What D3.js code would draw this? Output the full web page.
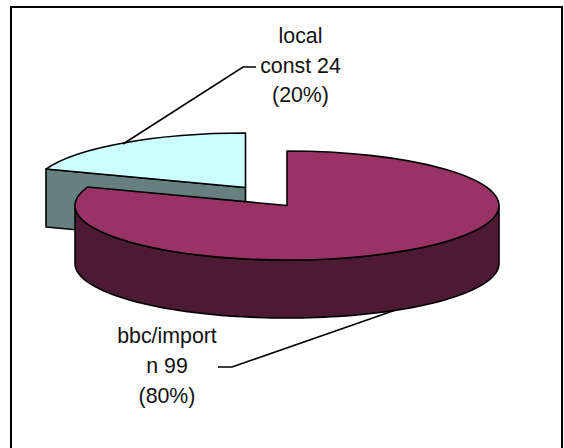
<!DOCTYPE html>
<html><head><meta charset="utf-8">
<script src="https://cdnjs.cloudflare.com/ajax/libs/d3/7.9.0/d3.min.js"></script>
<style>html,body{margin:0;background:#fff}svg{display:block}text{font-family:"Liberation Sans",Arial,sans-serif;font-size:21.33px;fill:#111;text-anchor:middle}</style>
</head><body><svg id="c" width="564" height="448"></svg>
<script>
const categories = ["bbc/import n", "local const"];
const values = [99, 24];
const labelLines = [["bbc/import", "n 99", "(80%)"], ["local", "const 24", "(20%)"]];
const topColors = ["#993366", "#CCFFFF"];
const sideColors = ["#4D1A33", "#668080"];

const svg = d3.select("#c");
const W = 1.6;
// the frame's lower edge falls below the picture
svg.append("rect").attr("x",11).attr("y",7).attr("width",551).attr("height",445)
  .attr("fill","#fff").attr("stroke","#000").attr("stroke-width",2);

const rx = 212, ry = 54.5, depth = 58;
const slices = d3.pie().sort(null).value(d=>d)(values);
const centers = [[287,205.5],[245.5,187.5]];
const arc = d3.arc().innerRadius(0).outerRadius(rx);
const pt = (a,c,dy=0)=>[c[0]+rx*Math.sin(a), c[1]-ry*Math.cos(a)+dy];
const line = d3.line();

// local const: cut face, then top
const s1 = slices[1], c1 = centers[1];
const lp = pt(s1.startAngle,c1);
svg.append("path").attr("d",line([lp,c1,[c1[0],c1[1]+depth],[lp[0],lp[1]+depth]])+"Z")
  .attr("fill",sideColors[1]).attr("stroke","#000").attr("stroke-width",W).attr("stroke-linejoin","round");
const drawTop=(s,c,col)=>svg.append("path").attr("d",arc(s))
  .attr("transform",`translate(${c[0]},${c[1]}) scale(1,${ry/rx})`)
  .attr("fill",col).attr("stroke","#000").attr("stroke-width",W)
  .attr("stroke-linejoin","round")
  .style("vector-effect","non-scaling-stroke");
drawTop(s1,c1,topColors[1]);

// bbc/import: front wall from the right extreme to the left extreme, then top
const s0 = slices[0], c0 = centers[0];
const angs = d3.range(Math.PI/2, 3*Math.PI/2+0.001, Math.PI/90);
const wall = angs.map(a=>pt(a,c0)).concat(angs.slice().reverse().map(a=>pt(a,c0,depth)));
// leader line for the lower label runs behind the wall
const leaders = [[[218,367],[232,367],[410,305]],[[123,144],[243,67],[256,67]]];
leaders.forEach(l=>svg.append("path").attr("d",line(l)).attr("fill","none").attr("stroke","#000").attr("stroke-width",W));

svg.append("path").attr("d",line(wall)+"Z")
  .attr("fill",sideColors[0]).attr("stroke","#000").attr("stroke-width",W).attr("stroke-linejoin","round");
drawTop(s0,c0,topColors[0]);

// labels
const labelPos = [[167,343],[300.5,43]];
const labelGap = [30,29.5];
labelLines.forEach((ls,i)=>ls.forEach((t,j)=>svg.append("text")
  .attr("x",labelPos[i][0]).attr("y",labelPos[i][1]+j*labelGap[i]).text(t)));
</script></body></html>
